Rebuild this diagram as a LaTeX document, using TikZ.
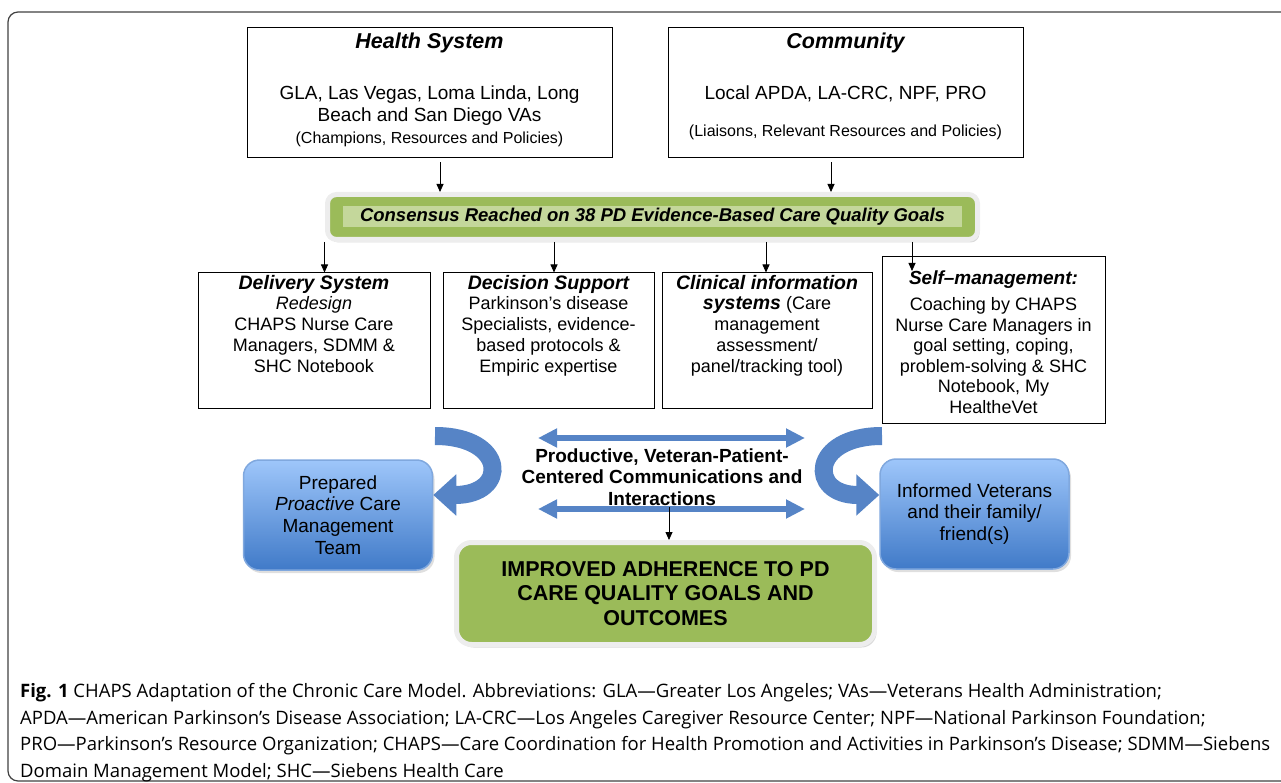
\documentclass[tikz,border=0pt]{standalone}
\usepackage{fontspec}
\setmainfont{Liberation Sans}
\newfontfamily\capfont{Open Sans}
\usetikzlibrary{arrows.meta, positioning, calc, shadows}

\definecolor{leafgreen}{RGB}{155,187,89}
\definecolor{palegreen}{RGB}{196,215,155}
\definecolor{skyblue}{RGB}{158,198,250}
\definecolor{deepblue}{RGB}{64,122,200}
\definecolor{rimblue}{RGB}{128,168,222}
\definecolor{arrowblue}{RGB}{86,132,198}

\newcommand{\fs}[2]{\fontsize{#1}{#2}\selectfont}
\newcommand{\topbox}[3]{\parbox[c][#1][t]{#2}{\centering #3}}

\tikzset{
  plainbox/.style={draw, line width=1pt, inner sep=0pt},
  goalbar/.style={fill=leafgreen, draw=black!7, line width=5pt, rounded corners=9pt,
    drop shadow={opacity=0.3, shadow xshift=2pt, shadow yshift=-3pt}},
  teambox/.style={top color=skyblue, bottom color=deepblue, draw=rimblue, line width=1.5pt,
    rounded corners=16pt, align=center, inner sep=0pt,
    drop shadow={opacity=0.25, shadow xshift=2pt, shadow yshift=-3pt}},
  arr/.style={-{Triangle[length=8pt,width=7pt]}, line width=0.8pt},
  curlarrow/.style={line width=18pt, draw=arrowblue, -{Triangle[length=23pt,width=40pt]}},
  dbl/.style={line width=6pt, draw=arrowblue,
    {Triangle[length=19pt,width=18pt]}-{Triangle[length=19pt,width=18pt]}},
}

\begin{document}
\begin{tikzpicture}[x=1pt, y=-1pt]
\useasboundingbox (0,0) rectangle (1281,783);
\draw[line width=1.2pt, black!75, rounded corners=10pt] (8,12) rectangle (1300,781);

% Health system and community
\node[plainbox] (health) at (429.5,93) {\topbox{130pt}{365pt}{\fs{19}{22}\vspace*{5pt}%
  {\fs{21.5}{24}\bfseries\itshape Health System}\\[29pt]
  GLA, Las Vegas, Loma Linda, Long\\
  Beach and San Diego VAs\\
  {\fs{16}{18}(Champions, Resources and Policies)}}};
\node[plainbox] (comm) at (845.5,93) {\topbox{130pt}{355pt}{\fs{19}{22}\vspace*{5pt}%
  {\fs{21.5}{24}\bfseries\itshape Community}\\[29pt]
  Local APDA, LA-CRC, NPF, PRO\\[15pt]
  {\fs{16}{18}(Liaisons, Relevant Resources and Policies)}}};

% Consensus bar
\node[goalbar, minimum width=650pt, minimum height=45pt] (goals) at (652.5,217) {};
\node[fill=palegreen, minimum width=619pt, minimum height=21pt, inner sep=0pt,
  font=\fs{18.5}{20}\bfseries\itshape] (goaltext) at (goals.center)
  {Consensus Reached on 38 PD Evidence-Based Care Quality Goals};

\draw[arr] ([xshift=10.5pt,yshift=-4pt]health.south) -- ([xshift=10.5pt]health.south |- goals.north);
\draw[arr] ([xshift=-14.5pt,yshift=-4pt]comm.south) -- ([xshift=-14.5pt]comm.south |- goals.north);

% Chronic care model elements
\node[plainbox] (deliv) at (314,340.5) {\topbox{135pt}{232pt}{\fs{18}{20.8}\vspace*{2pt}%
  {\fs{19.5}{21}\bfseries\itshape Delivery System}\\
  \textit{Redesign}\\
  CHAPS Nurse Care\\
  Managers, SDMM \&\\
  SHC Notebook}};
\node[plainbox] (decis) at (548.5,340.5) {\topbox{135pt}{211pt}{\fs{18}{20.8}\vspace*{2pt}%
  {\fs{19.5}{21}\bfseries\itshape Decision Support}\\
  Parkinson’s disease\\
  Specialists, evidence-\\
  based protocols \&\\
  Empiric expertise}};
\node[plainbox] (clinic) at (767,340.5) {\topbox{135pt}{210pt}{\fs{18}{20.8}\vspace*{2pt}%
  {\fs{19.5}{21}\bfseries\itshape Clinical information}\\
  {\fs{19.5}{21}\bfseries\itshape systems} (Care\\
  management\\
  assessment/\\
  panel/tracking tool)}};
\node[plainbox] (selfm) at (993.5,340) {\topbox{167pt}{223pt}{\fs{18}{20.5}\vspace*{14pt}%
  {\fs{19}{21}\bfseries\itshape Self–management:}\\[6pt]
  Coaching by CHAPS\\
  Nurse Care Managers in\\
  goal setting, coping,\\
  problem-solving \& SHC\\
  Notebook, My\\
  HealtheVet}};

\draw[arr] ([xshift=10.5pt]deliv.north |- goals.south) -- ([xshift=10.5pt]deliv.north);
\draw[arr] ([xshift=5.5pt]decis.north |- goals.south) -- ([xshift=5.5pt]decis.north);
\draw[arr] ([xshift=-1pt]clinic.north |- goals.south) -- ([xshift=-1pt]clinic.north);
\draw[arr] ([xshift=-81.5pt]selfm.north |- goals.south) -- ([xshift=-81.5pt,yshift=-15pt]selfm.north);

% Team and veterans
\node[teambox, minimum width=189pt, minimum height=110pt, font=\fs{19}{21.8}] (prep) at (338,515)
  {Prepared\\ \textit{Proactive} Care\\ Management\\ Team};
\node[teambox, minimum width=189pt, minimum height=110pt, font=\fs{19}{21.8}] (vets) at (974.5,514)
  {Informed Veterans\\ and their family/\\ friend(s)};

% Interactions
\node[font=\fs{19}{21.3}\bfseries, align=center, inner sep=2pt] (talk) at (662,477)
  {Productive, Veteran-Patient-\\ Centered Communications and\\ Interactions};
\coordinate (ta) at (538,438);
\coordinate (tb) at (805,438);
\coordinate (ba) at (538,509);
\coordinate (bb) at (805,509);
\draw[dbl] (ta) -- (tb);
\draw[dbl] (ba) -- (bb);

\coordinate (lcurl) at (435,436);
\coordinate (rcurl) at (882,436);
\draw[curlarrow] (lcurl) .. controls (507,436) and (509,495) .. ([yshift=20pt]prep.east);
\draw[curlarrow] (rcurl) .. controls (810,436) and (808,495) .. ([yshift=19pt]vets.west);

% Outcome
\node[goalbar, rounded corners=15pt, minimum width=418pt, minimum height=102pt,
  font=\fs{21.5}{24.5}\bfseries, align=center] (better) at (665.5,593.5)
  {IMPROVED ADHERENCE TO PD\\ CARE QUALITY GOALS AND\\ OUTCOMES};
\draw[arr] ([xshift=7pt]talk.south) -- ([xshift=7pt]talk.south |- better.north);

% Caption
\node[anchor=north west, inner sep=0pt, align=left, font=\capfont\fs{18.5}{26.5}] (caption) at (20,683.5)
  {\textbf{Fig. 1} CHAPS Adaptation of the Chronic Care Model. Abbreviations: GLA—Greater Los Angeles; VAs—Veterans Health Administration;\\
  APDA—American Parkinson’s Disease Association; LA-CRC—Los Angeles Caregiver Resource Center; NPF—National Parkinson Foundation;\\
  PRO—Parkinson’s Resource Organization; CHAPS—Care Coordination for Health Promotion and Activities in Parkinson’s Disease; SDMM—Siebens\\
  Domain Management Model; SHC—Siebens Health Care};
\end{tikzpicture}
\end{document}
